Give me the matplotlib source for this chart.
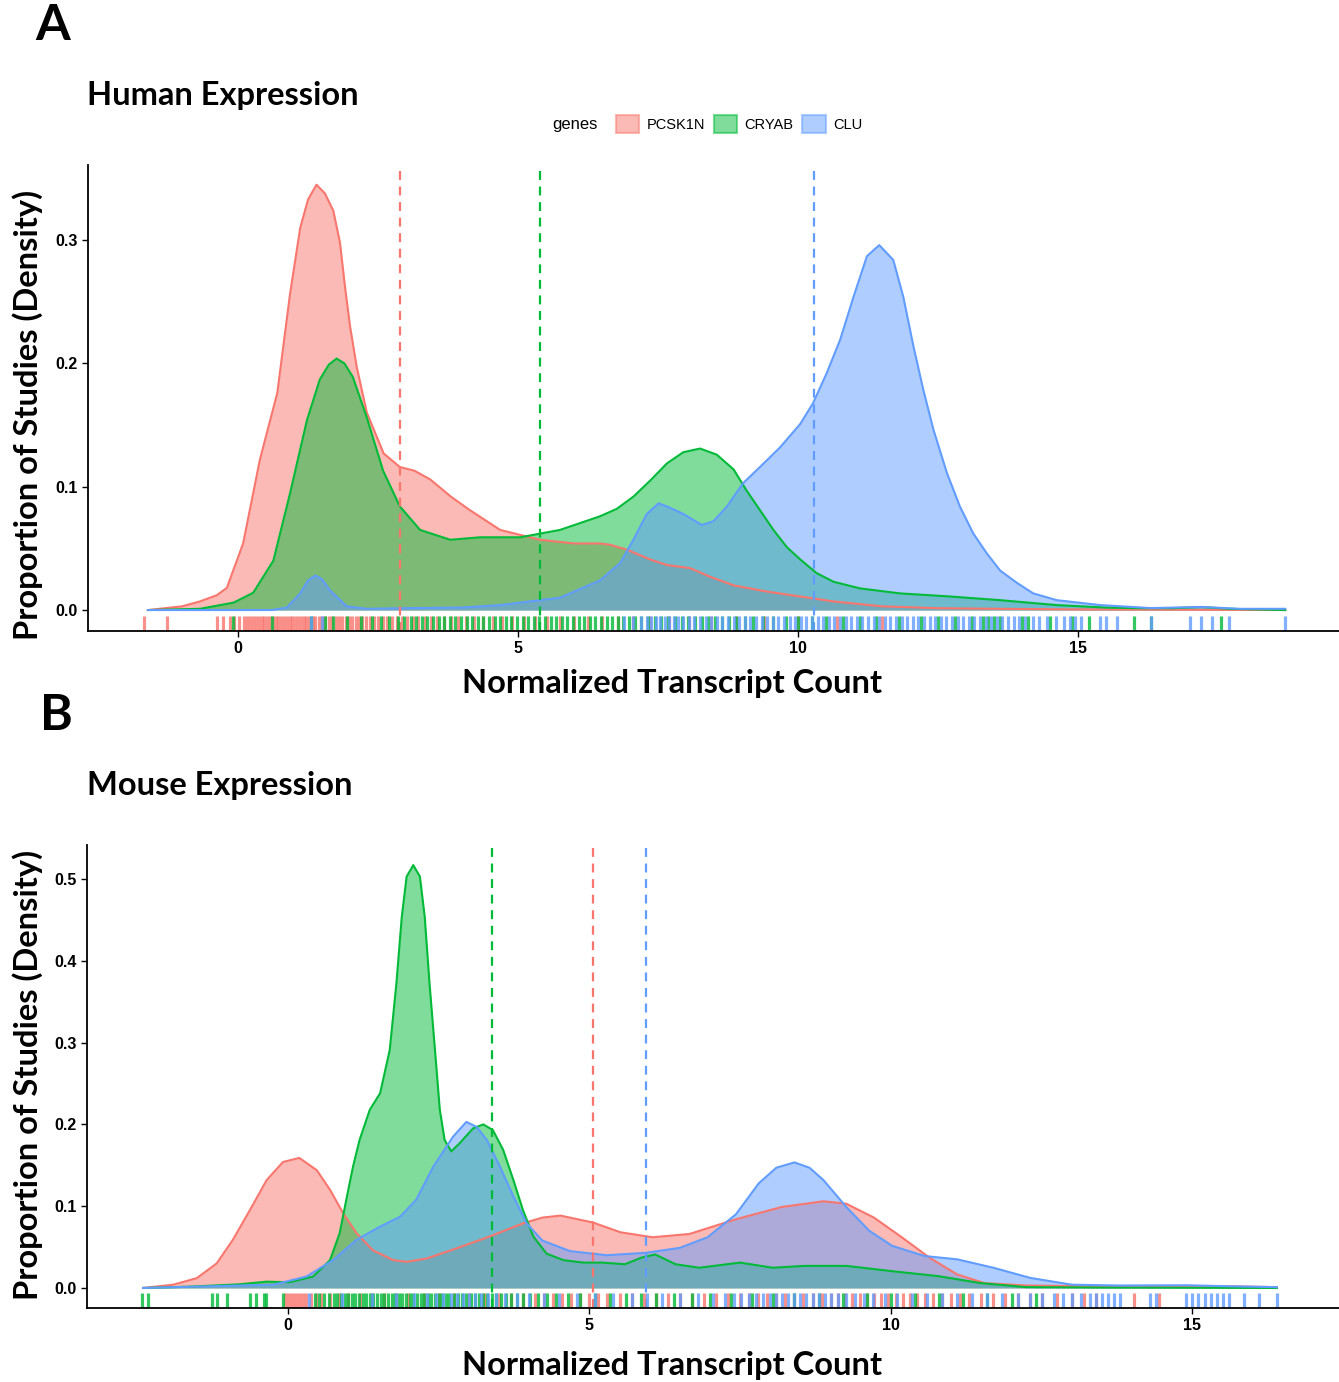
import matplotlib.pyplot as plt
from matplotlib.patches import Patch

# gene colours (ggplot default hues)
genes = ["PCSK1N", "CRYAB", "CLU"]
colors = {"PCSK1N": "#F8766D", "CRYAB": "#00BA38", "CLU": "#619CFF"}

# ---- Panel A: human density curves (x, density)
human_x = {
    "PCSK1N": [-1.61, -1.0, -0.68, -0.38, -0.2, 0.09, 0.39, 0.70, 0.93, 1.11, 1.25, 1.40, 1.55, 1.70,
               1.82, 1.91, 2.0, 2.12, 2.3, 2.6, 2.89, 3.15, 3.43, 3.8, 4.14, 4.68, 5.39, 6.0, 6.46,
               6.64, 6.94, 7.36, 7.66, 8.07, 8.43, 8.85, 9.44, 10.04, 10.63, 11.5, 12.5, 13.6, 15.0, 18.7],
    "CRYAB": [-1.61, -0.68, -0.08, 0.27, 0.63, 0.93, 1.23, 1.46, 1.62, 1.76, 1.9, 2.05, 2.30, 2.59,
              2.89, 3.25, 3.79, 4.32, 5.04, 5.75, 6.46, 6.76, 7.06, 7.36, 7.66, 7.95, 8.25, 8.55, 8.85,
              9.08, 9.32, 9.56, 9.8, 10.04, 10.33, 10.63, 11.1, 11.82, 12.71, 13.61, 14.62, 15.5, 16.1,
              16.7, 17.2, 17.7, 18.7],
    "CLU": [-1.61, 0.6, 0.87, 1.1, 1.25, 1.38, 1.5, 1.64, 1.94, 2.3, 2.9, 4.0, 4.68, 5.75, 6.46, 6.82,
            7.06, 7.30, 7.51, 7.66, 7.95, 8.28, 8.49, 8.73, 9.02, 9.32, 9.68, 10.04, 10.27, 10.51, 10.75,
            10.99, 11.23, 11.45, 11.7, 11.88, 12.06, 12.24, 12.42, 12.66, 12.89, 13.13, 13.37, 13.61,
            13.91, 14.2, 14.62, 15.4, 16.3, 17.2, 17.9, 18.7],
}
human_y = {
    "PCSK1N": [0.0, 0.003, 0.007, 0.012, 0.018, 0.054, 0.122, 0.176, 0.257, 0.31, 0.333, 0.345, 0.338,
               0.324, 0.298, 0.262, 0.23, 0.197, 0.16, 0.127, 0.116, 0.113, 0.106, 0.092, 0.081, 0.065,
               0.057, 0.054, 0.054, 0.053, 0.049, 0.041, 0.0365, 0.034, 0.027, 0.020, 0.015, 0.011,
               0.007, 0.003, 0.0015, 0.001, 0.0005, 0.0],
    "CRYAB": [0.0, 0.001, 0.006, 0.014, 0.04, 0.095, 0.154, 0.187, 0.199, 0.204, 0.2, 0.189, 0.156,
              0.113, 0.084, 0.065, 0.057, 0.059, 0.059, 0.065, 0.076, 0.082, 0.092, 0.105, 0.119, 0.128,
              0.131, 0.126, 0.114, 0.097, 0.081, 0.065, 0.051, 0.041, 0.030, 0.023, 0.0176, 0.0135,
              0.011, 0.008, 0.004, 0.002, 0.0015, 0.0015, 0.0025, 0.001, 0.0],
    "CLU": [0.0, 0.0, 0.002, 0.013, 0.024, 0.028, 0.025, 0.016, 0.003, 0.001, 0.0015, 0.002, 0.004, 0.01,
            0.024, 0.038, 0.057, 0.078, 0.0865, 0.084, 0.078, 0.069, 0.072, 0.084, 0.103, 0.116, 0.132,
            0.151, 0.168, 0.192, 0.219, 0.254, 0.287, 0.296, 0.284, 0.254, 0.214, 0.178, 0.146, 0.111,
            0.084, 0.062, 0.046, 0.032, 0.022, 0.0135, 0.008, 0.004, 0.0016, 0.0025, 0.001, 0.001],
}
human_means = {"PCSK1N": 2.89, "CRYAB": 5.39, "CLU": 10.29}

human_rug = {
    "PCSK1N": [-1.68, -1.27, -0.38, -0.27, -0.15, -0.08, 0.02, 0.1, 0.16, 0.22, 0.27, 0.32, 0.37, 0.42,
               0.47, 0.52, 0.57, 0.62, 0.67, 0.72, 0.77, 0.82, 0.87, 0.92, 0.97, 1.02, 1.07, 1.12, 1.17,
               1.22, 1.27, 1.33, 1.38, 1.44, 1.5, 1.56, 1.62, 1.68, 1.74, 1.8, 1.86, 1.92, 1.98, 2.04,
               2.1, 2.16, 2.22, 2.28, 2.35, 2.42, 2.5, 2.58, 2.66, 2.75, 2.84, 2.93, 3.02, 3.12, 3.22,
               3.33, 3.44, 3.56, 3.68, 3.8, 3.93, 4.07, 4.22, 4.38, 4.55, 4.72, 4.9, 5.1, 5.3, 5.52,
               5.75, 6.0, 6.25, 6.5, 6.78, 7.05, 7.35, 7.7, 8.05, 8.45, 8.9, 9.4, 10.0, 10.7, 11.5],
    "CRYAB": [-0.09, 0.6, 1.3, 1.55, 1.7, 1.95, 2.2, 2.4, 2.55, 2.7, 2.85, 2.97, 3.08, 3.18, 3.28, 3.38,
              3.48, 3.58, 3.68, 3.78, 3.88, 3.98, 4.08, 4.18, 4.28, 4.38, 4.48, 4.58, 4.68, 4.78, 4.88,
              4.98, 5.08, 5.18, 5.28, 5.38, 5.48, 5.58, 5.68, 5.78, 5.88, 5.98, 6.08, 6.18, 6.28, 6.38,
              6.48, 6.58, 6.68, 6.78, 6.88, 6.98, 7.08, 7.2, 7.32, 7.44, 7.56, 7.68, 7.8, 7.92, 8.04,
              8.16, 8.28, 8.4, 8.52, 8.64, 8.76, 8.9, 9.05, 9.2, 9.38, 9.56, 9.78, 10.0, 10.25, 10.5,
              10.8, 11.1, 11.4, 11.8, 12.2, 12.5, 12.8, 13.1, 13.3, 13.4, 13.5, 13.6, 14.0, 14.1, 14.5,
              14.9, 15.2, 16.0, 16.3, 17.56],
    "CLU": [1.3, 1.5, 6.9, 7.05, 7.2, 7.3, 7.38, 7.46, 7.54, 7.62, 7.7, 7.78, 7.86, 7.95, 8.05, 8.15,
            8.25, 8.35, 8.45, 8.55, 8.65, 8.75, 8.85, 8.95, 9.05, 9.15, 9.25, 9.35, 9.45, 9.55, 9.65,
            9.75, 9.85, 9.95, 10.05, 10.15, 10.25, 10.35, 10.45, 10.55, 10.65, 10.75, 10.85, 10.95,
            11.05, 11.15, 11.25, 11.35, 11.45, 11.55, 11.65, 11.75, 11.85, 11.95, 12.05, 12.15, 12.25,
            12.35, 12.45, 12.55, 12.65, 12.75, 12.85, 12.95, 13.05, 13.15, 13.25, 13.35, 13.45, 13.55,
            13.65, 13.75, 13.85, 13.95, 14.05, 14.2, 14.3, 14.45, 14.6, 14.75, 14.85, 14.95, 15.05,
            15.4, 15.5, 15.7, 16.3, 17.0, 17.2, 17.4, 17.7, 18.7],
}

# ---- Panel B: mouse density curves
mouse_x = {
    "PCSK1N": [-2.4, -1.9, -1.51, -1.18, -0.91, -0.63, -0.35, -0.08, 0.19, 0.48, 0.70, 0.92, 1.14,
               1.41, 1.75, 1.97, 2.30, 2.80, 3.35, 3.90, 4.22, 4.52, 5.06, 5.52, 6.05, 6.66, 7.43,
               8.19, 8.88, 9.26, 9.72, 10.18, 10.64, 11.1, 11.55, 12.24, 13.38, 15.67, 16.4],
    "CRYAB": [-2.4, -1.63, -0.8, -0.35, 0.03, 0.42, 0.70, 0.86, 0.97, 1.08, 1.19, 1.36, 1.53, 1.69,
              1.80, 1.89, 1.97, 2.08, 2.19, 2.27, 2.35, 2.44, 2.52, 2.60, 2.71, 2.85, 3.07, 3.24, 3.40,
              3.57, 3.74, 3.90, 4.07, 4.29, 4.57, 4.90, 5.21, 5.59, 5.86, 6.09, 6.43, 6.82, 7.5, 8.04,
              8.57, 9.26, 10.02, 10.79, 11.48, 12.24, 13.5, 16.4],
    "CLU": [-2.4, -0.24, 0.31, 0.75, 1.14, 1.53, 1.86, 2.13, 2.41, 2.74, 2.96, 3.13, 3.30, 3.52, 3.74,
            3.96, 4.22, 4.68, 5.29, 5.94, 6.5, 6.96, 7.43, 7.81, 8.10, 8.40, 8.65, 8.88, 9.26, 9.64,
            10.02, 10.56, 11.1, 11.7, 12.31, 13.0, 13.77, 14.9, 15.67, 16.4],
}
mouse_y = {
    "PCSK1N": [0.0, 0.004, 0.012, 0.030, 0.059, 0.095, 0.132, 0.154, 0.159, 0.144, 0.120, 0.091,
               0.067, 0.046, 0.034, 0.032, 0.036, 0.0485, 0.063, 0.079, 0.086, 0.0885, 0.080, 0.068,
               0.062, 0.066, 0.084, 0.099, 0.106, 0.103, 0.086, 0.062, 0.037, 0.0165, 0.006, 0.003,
               0.002, 0.002, 0.001],
    "CRYAB": [0.0, 0.0016, 0.0045, 0.0077, 0.007, 0.014, 0.034, 0.067, 0.108, 0.148, 0.181, 0.218,
              0.238, 0.291, 0.372, 0.454, 0.503, 0.517, 0.503, 0.454, 0.372, 0.291, 0.218, 0.181, 0.167,
              0.177, 0.195, 0.2, 0.193, 0.169, 0.132, 0.095, 0.063, 0.042, 0.034, 0.031, 0.031, 0.029,
              0.037, 0.041, 0.029, 0.0247, 0.031, 0.0247, 0.027, 0.027, 0.0205, 0.0144, 0.006, 0.001,
              0.0005, 0.0],
    "CLU": [0.0, 0.004, 0.014, 0.034, 0.059, 0.075, 0.087, 0.108, 0.148, 0.185, 0.203, 0.197, 0.181,
            0.148, 0.112, 0.079, 0.058, 0.045, 0.040, 0.043, 0.049, 0.062, 0.090, 0.128, 0.147, 0.1535,
            0.147, 0.132, 0.099, 0.070, 0.0515, 0.039, 0.035, 0.0247, 0.0123, 0.004, 0.003, 0.0033,
            0.002, 0.001],
}
mouse_means = {"PCSK1N": 5.06, "CRYAB": 3.38, "CLU": 5.94}

mouse_rug = {
    "PCSK1N": [-0.05, 0.0, 0.05, 0.1, 0.15, 0.2, 0.25, 0.3, 0.38, 0.46, 0.55, 0.7, 0.85, 1.0, 1.2, 1.4,
               1.6, 1.8, 2.0, 2.25, 2.5, 2.75, 3.0, 3.25, 3.5, 3.7, 3.9, 4.1, 4.25, 4.4, 4.55, 4.7, 4.85,
               5.0, 5.15, 5.3, 5.5, 5.7, 5.9, 6.1, 6.3, 6.5, 6.7, 6.9, 7.1, 7.3, 7.5, 7.65, 7.8, 7.95,
               8.1, 8.25, 8.4, 8.55, 8.7, 8.85, 9.0, 9.12, 9.24, 9.36, 9.48, 9.6, 9.72, 9.84, 9.96,
               10.08, 10.2, 10.32, 10.44, 10.56, 10.7, 10.85, 11.0, 11.15, 11.3, 11.5, 11.7, 11.9,
               12.1, 12.3, 12.5, 12.75, 13.0, 13.2, 13.4, 14.03, 14.45],
    "CRYAB": [-2.42, -2.32, -1.26, -1.18, -1.01, -0.63, -0.53, -0.4, -0.37, -0.08, 0.45, 0.52, 0.6,
              0.68, 0.76, 0.82, 0.88, 0.94, 1.0, 1.06, 1.12, 1.18, 1.24, 1.3, 1.36, 1.42, 1.48, 1.54,
              1.6, 1.66, 1.72, 1.78, 1.84, 1.9, 1.96, 2.02, 2.08, 2.14, 2.2, 2.26, 2.32, 2.38, 2.44,
              2.5, 2.56, 2.62, 2.68, 2.75, 2.82, 2.89, 2.96, 3.03, 3.1, 3.17, 3.24, 3.31, 3.38, 3.45,
              3.53, 3.61, 3.7, 3.8, 3.9, 4.02, 4.15, 4.3, 4.45, 4.65, 4.85, 5.1, 5.35, 5.6, 5.85, 6.1,
              6.4, 6.7, 7.0, 7.35, 7.7, 8.05, 8.4, 8.8, 9.2, 9.6, 10.0, 10.4, 10.8, 11.2, 11.6, 12.0,
              12.4],
    "CLU": [0.35, 0.9, 1.4, 1.8, 2.1, 2.3, 2.45, 2.58, 2.7, 2.8, 2.9, 3.0, 3.1, 3.2, 3.32, 3.45, 3.6,
            3.8, 4.0, 4.25, 4.5, 4.8, 5.1, 5.4, 5.7, 5.95, 6.2, 6.5, 6.8, 7.05, 7.25, 7.4, 7.52, 7.64,
            7.76, 7.88, 8.0, 8.1, 8.2, 8.3, 8.4, 8.5, 8.6, 8.7, 8.8, 8.9, 9.0, 9.12, 9.25, 9.4, 9.55,
            9.7, 9.9, 10.1, 10.35, 10.6, 10.85, 11.1, 11.35, 11.6, 11.85, 12.1, 12.3, 12.5, 12.7,
            12.85, 13.0, 13.15, 13.3, 13.4, 13.5, 13.6, 13.7, 13.8, 14.3, 14.4, 14.9, 15.0, 15.1,
            15.2, 15.3, 15.4, 15.5, 15.6, 15.85, 16.1, 16.4],
}

fig = plt.figure(figsize=(13.39, 13.82), dpi=100)
W, H = 1339, 1382


def panel(rect, xs, ys, means, rug, xlim, ylim, yticks):
    ax = fig.add_axes(rect)
    for g in genes:
        ax.fill_between(xs[g], 0, ys[g], color=colors[g], alpha=0.5, lw=0)
        ax.plot(xs[g], ys[g], color=colors[g], lw=1.5, solid_joinstyle="round")
    for g in genes:
        ax.axvline(means[g], color=colors[g], lw=1.6, linestyle=(0, (4, 3)))
    # rug along the bottom
    for g in genes:
        ax.vlines(rug[g], 0, 0.033, transform=ax.get_xaxis_transform(),
                  color=colors[g], lw=2.3, alpha=0.8)
    ax.set_xlim(*xlim)
    ax.set_ylim(*ylim)
    ax.set_xticks([0, 5, 10, 15])
    ax.set_yticks(yticks)
    ax.set_yticklabels([f"{t:.1f}" for t in yticks])
    for s in ["top", "right"]:
        ax.spines[s].set_visible(False)
    for s in ["left", "bottom"]:
        ax.spines[s].set_linewidth(1.3)
    ax.tick_params(length=4, width=1, labelsize=11.5)
    for lab in ax.get_xticklabels() + ax.get_yticklabels():
        lab.set_fontweight("bold")
        lab.set_family("Liberation Sans")
    return ax


axA = panel([88 / W, 1 - 631 / H, 1 - 88 / W, (631 - 165) / H], human_x, human_y, human_means,
            human_rug, (-2.68, 19.66), (-0.017, 0.361), [0.0, 0.1, 0.2, 0.3])
axB = panel([87 / W, 1 - 1308 / H, 1 - 87 / W, (1308 - 845) / H], mouse_x, mouse_y, mouse_means,
            mouse_rug, (-3.33, 17.43), (-0.0245, 0.5416), [0.0, 0.1, 0.2, 0.3, 0.4, 0.5])

big = "Lato"
fig.text(35 / W, 1 - 25 / H, "A", fontsize=36, fontweight="bold", family=big, va="center")
fig.text(40 / W, 1 - 715 / H, "B", fontsize=36, fontweight="bold", family=big, va="center")
fig.text(87 / W, 1 - 95 / H, "Human Expression", fontsize=23.5, fontweight="bold", family=big, va="center")
fig.text(87 / W, 1 - 785 / H, "Mouse Expression", fontsize=23.5, fontweight="bold", family=big, va="center")
for yc in [683, 1365]:
    fig.text(672 / W, 1 - yc / H, "Normalized Transcript Count", fontsize=23.5, fontweight="bold",
             family=big, ha="center", va="center")
for yc in [415, 1075]:
    fig.text(28 / W, 1 - yc / H, "Proportion of Studies (Density)", fontsize=23.5, fontweight="bold",
             family=big, ha="center", va="center", rotation=90)

# legend
fig.text(552 / W, 1 - 124 / H, "genes", fontsize=12, family="Liberation Sans", va="center")
handles = [Patch(facecolor=colors[g], edgecolor=colors[g], alpha=0.5, lw=1.5) for g in genes]
fig.legend(handles, genes, loc="center left", bbox_to_anchor=(603 / W, 1 - 124 / H), ncol=3,
           frameon=False, handlelength=1.6, handleheight=1.6, handletextpad=0.5, columnspacing=0.6,
           prop={"family": "Liberation Sans", "size": 10.5})

plt.savefig("out.png", dpi=100)
